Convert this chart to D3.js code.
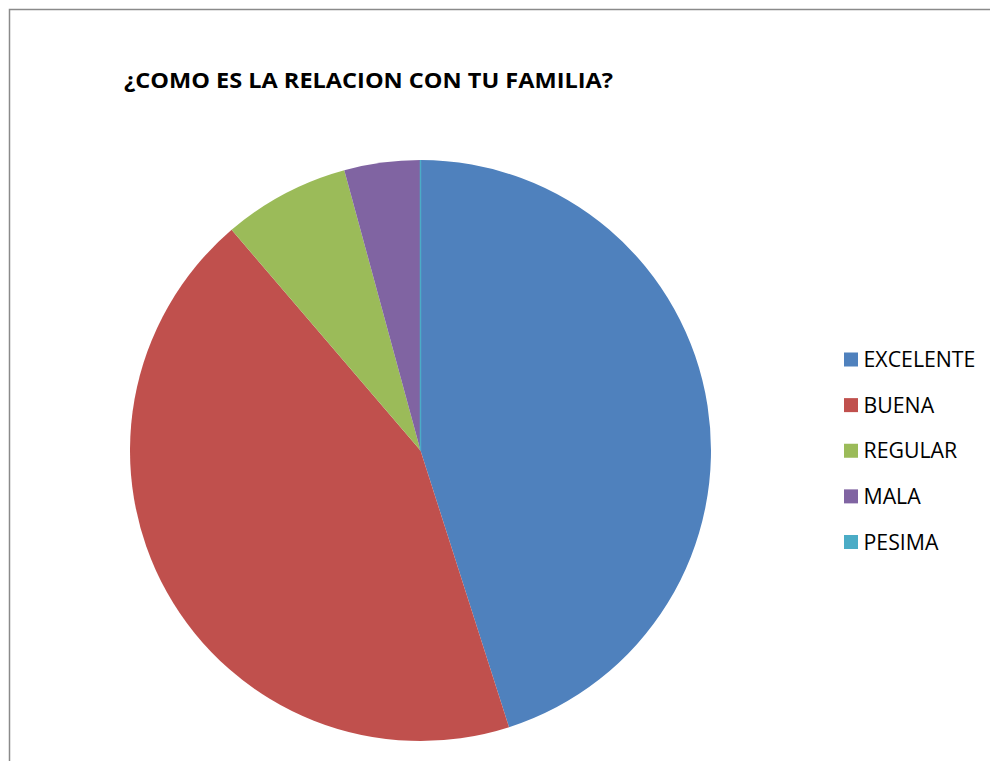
<!DOCTYPE html>
<html><head><meta charset="utf-8">
<script src="https://cdn.jsdelivr.net/npm/d3@7"></script>
<style>html,body{margin:0;padding:0;background:#fff;}svg{display:block;}</style>
</head><body>
<svg id="c" width="990" height="761"></svg>
<script>
const title = "¿COMO ES LA RELACION CON TU FAMILIA?";
const categories = ["EXCELENTE", "BUENA", "REGULAR", "MALA", "PESIMA"];
const values = [32, 31, 5, 3, 0];
const colors = ["#4F81BD", "#C0504D", "#9BBB59", "#8064A2", "#4BACC6"];

const svg = d3.select("#c");
const W = 990, H = 761;

// frame
svg.append("path")
  .attr("d", `M9.5,${H} L9.5,9.5 L${W},9.5`)
  .attr("fill", "none").attr("stroke", "#8a8a8a").attr("stroke-width", 1.5);

// title
svg.append("text")
  .attr("x", 124).attr("y", 88)
  .attr("font-family", "'Open Sans', sans-serif")
  .attr("font-weight", "bold").attr("font-size", 21)
  .attr("textLength", 489).attr("lengthAdjust", "spacingAndGlyphs")
  .attr("fill", "#000").text(title);

const data = categories.map((c, i) => ({cat: c, value: values[i], color: colors[i]}));
const pie = d3.pie().sort(null).value(d => d.value);
const arcs = pie(data);
const r = 290.5;
const arc = d3.arc().innerRadius(0).outerRadius(r);
const g = svg.append("g").attr("transform", "translate(420.5,450.5)");
g.selectAll("path").data(arcs).join("path")
  .attr("d", arc)
  .attr("fill", d => d.data.color)
  .attr("stroke", d => d.data.value === 0 ? d.data.color : "none")
  .attr("stroke-width", 1.5);

// legend
const y = d3.scalePoint().domain(categories).range([359.5, 542]);
const lg = svg.append("g");
const item = lg.selectAll("g").data(data).join("g")
  .attr("transform", d => `translate(844,${y(d.cat)})`);
item.append("rect").attr("x", 0).attr("y", -7).attr("width", 14).attr("height", 14)
  .attr("fill", d => d.color);
item.append("text").attr("x", 19.5).attr("y", 7.5)
  .attr("font-family", "'Open Sans', sans-serif").attr("font-size", 21.3)
  .attr("fill", "#000").text(d => d.cat);
</script>
</body></html>
